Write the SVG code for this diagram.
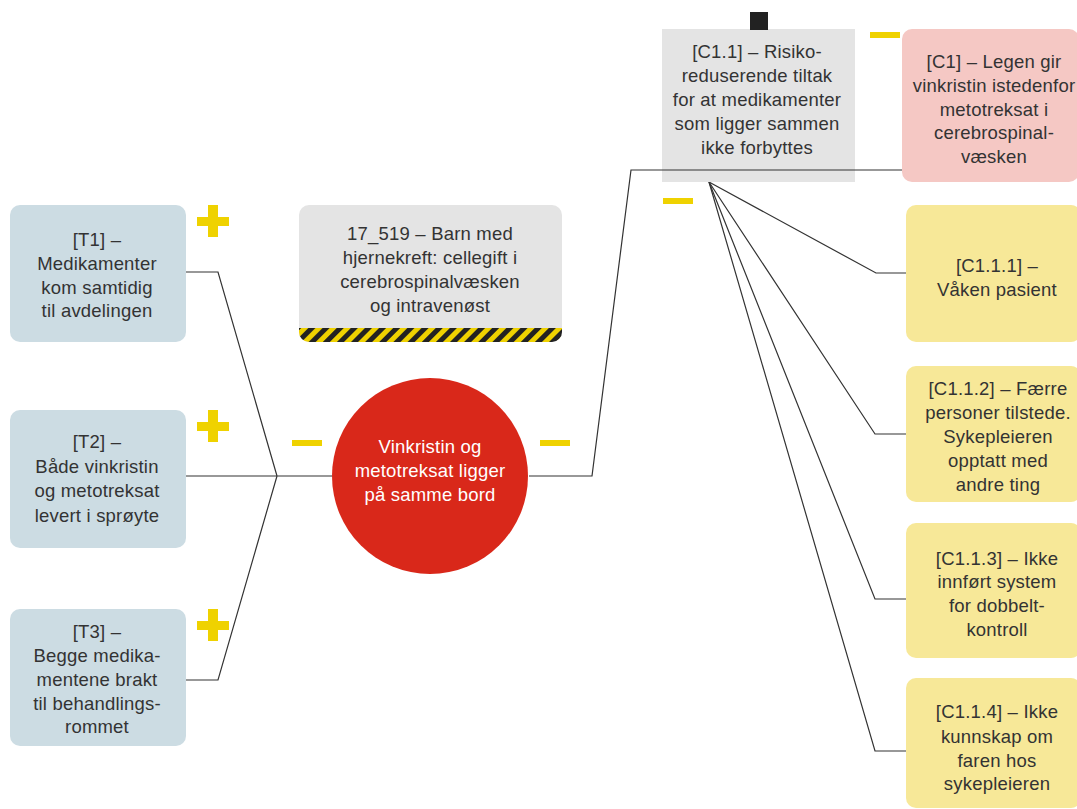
<svg xmlns="http://www.w3.org/2000/svg" width="1077" height="809" viewBox="0 0 1077 809">
<style>
.t{font-family:"Liberation Sans",Arial,sans-serif;font-size:18.5px;fill:#333;text-anchor:middle;letter-spacing:0.2px}
.w{fill:#fff}
.blue{fill:#ccdce3}
.gray{fill:#e4e4e4}
.pink{fill:#f5c8c4}
.yel{fill:#f7e898}
.mark{fill:#efd200}
.con{fill:none;stroke:#333;stroke-width:1.2}
</style>
<defs>
<pattern id="hazard" patternUnits="userSpaceOnUse" width="10" height="10" patternTransform="rotate(45)">
<rect x="0" y="0" width="10" height="10" fill="#efd200"/>
<rect x="0" y="0" width="5" height="10" fill="#222"/>
</pattern>
<clipPath id="stickerClip"><rect x="299" y="205" width="263" height="137" rx="10"/></clipPath>
</defs>
<rect width="1077" height="809" fill="#fff"/>
<g id="connectors">
<polyline class="con" points="186,272 218,272 277,476"/>
<polyline class="con" points="186,680 218,680 277,476"/>
<polyline class="con" points="186,476 332,476"/>
<polyline class="con" points="529,476 592,476 631,170 903,170"/>
<polyline class="con" points="709,182 876,273 906,273"/>
<polyline class="con" points="709,182 875,434 906,434"/>
<polyline class="con" points="709,182 875,599 906,599"/>
<polyline class="con" points="709,182 875,751 906,751"/>
</g>
<g id="T1">
<rect class="blue" x="10" y="205" width="176" height="137" rx="10"/>
<text class="t" x="97" y="246">[T1] –</text>
<text class="t" x="97" y="270">Medikamenter</text>
<text class="t" x="97" y="294">kom samtidig</text>
<text class="t" x="97" y="317">til avdelingen</text>
</g>
<g id="T2">
<rect class="blue" x="10" y="410" width="176" height="138" rx="10"/>
<text class="t" x="97" y="448">[T2] –</text>
<text class="t" x="97" y="473">Både vinkristin</text>
<text class="t" x="97" y="497">og metotreksat</text>
<text class="t" x="97" y="522">levert i sprøyte</text>
</g>
<g id="T3">
<rect class="blue" x="10" y="609" width="176" height="137" rx="10"/>
<text class="t" x="97" y="638">[T3] –</text>
<text class="t" x="97" y="662">Begge medika-</text>
<text class="t" x="97" y="686">mentene brakt</text>
<text class="t" x="97" y="710">til behandlings-</text>
<text class="t" x="97" y="733">rommet</text>
</g>
<g id="plus-marks">
<rect class="mark" x="197" y="217" width="32" height="9"/>
<rect class="mark" x="208" y="205" width="10" height="32"/>
<rect class="mark" x="197" y="422" width="32" height="9"/>
<rect class="mark" x="208" y="410" width="10" height="32"/>
<rect class="mark" x="197" y="621" width="32" height="9"/>
<rect class="mark" x="208" y="609" width="10" height="32"/>
</g>
<g id="minus-marks">
<rect class="mark" x="292" y="440" width="30" height="6"/>
<rect class="mark" x="540" y="440" width="30" height="6"/>
<rect class="mark" x="870" y="32" width="30" height="6"/>
<rect class="mark" x="663" y="198" width="30" height="6"/>
</g>
<g id="sticker">
<rect class="gray" x="299" y="205" width="263" height="137" rx="10"/>
<rect x="299" y="328" width="263" height="14" fill="url(#hazard)" clip-path="url(#stickerClip)"/>
<text class="t" x="430" y="240">17_519 – Barn med</text>
<text class="t" x="430" y="264">hjernekreft: cellegift i</text>
<text class="t" x="430" y="288">cerebrospinalvæsken</text>
<text class="t" x="430" y="312">og intravenøst</text>
</g>
<g id="center">
<circle cx="430" cy="476" r="98" fill="#d9281a"/>
<text class="t w" x="430" y="453">Vinkristin og</text>
<text class="t w" x="430" y="477">metotreksat ligger</text>
<text class="t w" x="430" y="501">på samme bord</text>
</g>
<g id="C1.1">
<rect class="gray" x="662" y="29" width="193" height="153"/>
<rect x="750" y="12" width="18" height="18" fill="#222"/>
<text class="t" x="757" y="58">[C1.1] – Risiko-</text>
<text class="t" x="757" y="82">reduserende tiltak</text>
<text class="t" x="757" y="106">for at medikamenter</text>
<text class="t" x="757" y="130">som ligger sammen</text>
<text class="t" x="757" y="154">ikke forbyttes</text>
</g>
<polyline class="con" points="662,170 855,170"/>
<g id="C1">
<rect class="pink" x="902" y="29" width="177" height="153" rx="10"/>
<text class="t" x="994" y="68">[C1] – Legen gir</text>
<text class="t" x="994" y="92">vinkristin istedenfor</text>
<text class="t" x="994" y="116">metotreksat i</text>
<text class="t" x="994" y="139">cerebrospinal-</text>
<text class="t" x="994" y="163">væsken</text>
</g>
<g id="C1.1.1">
<rect class="yel" x="906" y="205" width="175" height="137" rx="10"/>
<text class="t" x="997" y="272">[C1.1.1] –</text>
<text class="t" x="997" y="296">Våken pasient</text>
</g>
<g id="C1.1.2">
<rect class="yel" x="906" y="366" width="175" height="136" rx="10"/>
<text class="t" x="998" y="395">[C1.1.2] – Færre</text>
<text class="t" x="998" y="419">personer tilstede.</text>
<text class="t" x="998" y="443">Sykepleieren</text>
<text class="t" x="998" y="467">opptatt med</text>
<text class="t" x="998" y="491">andre ting</text>
</g>
<g id="C1.1.3">
<rect class="yel" x="906" y="523" width="175" height="135" rx="10"/>
<text class="t" x="997" y="565">[C1.1.3] – Ikke</text>
<text class="t" x="997" y="588">innført system</text>
<text class="t" x="997" y="612">for dobbelt-</text>
<text class="t" x="997" y="636">kontroll</text>
</g>
<g id="C1.1.4">
<rect class="yel" x="906" y="678" width="175" height="130" rx="10"/>
<text class="t" x="997" y="718">[C1.1.4] – Ikke</text>
<text class="t" x="997" y="743">kunnskap om</text>
<text class="t" x="997" y="767">faren hos</text>
<text class="t" x="997" y="790">sykepleieren</text>
</g>
</svg>
